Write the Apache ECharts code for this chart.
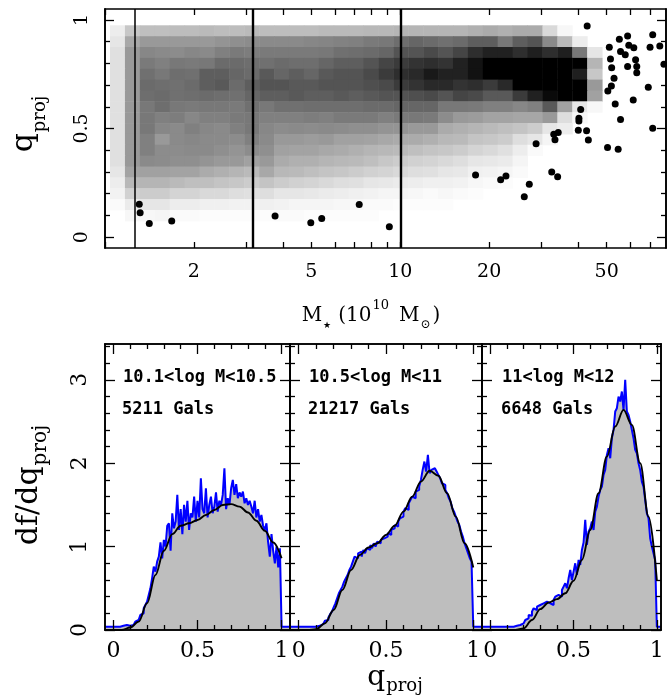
<!DOCTYPE html>
<html><head><meta charset="utf-8">
<script src="https://cdn.jsdelivr.net/npm/echarts@6/dist/echarts.min.js"></script>
<style>html,body{margin:0;padding:0;background:#fff}#c{width:667px;height:700px}</style>
</head><body><div id="c"></div>
<script>
// ================= DATA =================
// --- top panel ---
const massCuts = [10.1, 10.5, 11.0];                 // log M boundaries of the three samples
const massTickValues = [1,2,3,4,5,6,7,8,9,10,20,30,40,50,60,70,80]; // 10^10 Msun
const massTickLabels = [2, 5, 10, 20, 50];           // 10^10 Msun
const qTickMajor = [0, 0.5, 1];
const qTickMinor = [0.1,0.2,0.3,0.4,0.6,0.7,0.8,0.9];
const heatLogMStart = 10.017;   // left edge of first mass bin (log M)
const heatLogMWidth = 0.0505;   // mass bin width (dex)
const heatQWidth = 0.05;        // q bin width
const heatQ = [0.95,0.90,0.85,0.80,0.75,0.70,0.65,0.60,0.55,0.50,0.45,0.40,0.35,0.30,0.25,0.20,0.15,0.10];
// relative density (0 = empty/white, 100 = maximum/black), one row per q bin, 33 mass bins
const heatDensity = [
 [7,22,25,25,26,26,27,26,26,27,26, 26,26,26,27,27,27,28,28,29,29,29, 29,29,31,33,31,33,33,15,3,0,0],
 [10,34,40,40,40,40,40,42,44,45,46, 46,46,47,48,49,50,52,53,57,60,58, 56,58,63,63,53,63,67,46,27,7,0],
 [12,40,47,46,45,47,46,50,52,51,52, 52,52,52,53,56,57,58,60,67,67,71, 67,73,82,87,87,82,88,82,88,53,10],
 [12,40,52,50,53,52,53,58,58,57,56, 58,57,57,60,63,63,67,73,77,80,82, 80,87,93,100,100,100,100,100,100,100,29],
 [12,40,56,53,57,56,63,63,60,58,65, 60,63,60,65,67,67,71,77,82,84,90, 87,87,93,100,100,100,100,100,100,88,22],
 [12,40,58,57,56,58,63,65,58,63,67, 67,65,65,67,67,67,69,71,77,80,84, 84,80,82,77,84,100,100,100,100,100,40],
 [12,40,57,58,56,57,58,57,56,60,63, 63,65,63,63,65,63,65,67,67,69,71, 67,73,71,65,65,77,87,96,100,100,37],
 [12,40,53,57,53,52,53,53,52,56,53, 56,56,57,57,57,57,58,58,60,60,60, 53,53,52,50,50,47,50,65,37,10,3],
 [12,40,53,50,51,47,50,50,52,53,50, 50,50,51,50,52,52,52,50,52,53,52, 45,40,39,36,36,35,35,40,13,3,0],
 [12,40,53,47,46,50,47,46,50,53,47, 45,46,45,46,45,44,44,42,42,40,40, 33,31,29,27,25,23,20,10,7,0,0],
 [12,40,50,40,46,47,46,46,45,50,46, 40,40,39,40,37,37,36,34,33,33,31, 28,27,23,22,20,13,10,4,0,0,0],
 [12,40,50,45,45,46,46,44,42,45,44, 37,36,36,34,33,31,29,28,27,25,23, 22,20,17,15,12,7,2,0,0,0,0],
 [12,40,46,45,44,44,42,40,40,37,40, 33,31,31,29,28,27,25,22,20,18,17, 15,13,10,9,8,4,0,0,0,0,0],
 [10,36,37,37,36,36,33,31,29,27,34, 28,27,25,23,22,20,18,17,15,13,12, 10,9,6,5,4,2,0,0,0,0,0],
 [7,28,29,29,27,25,25,23,22,20,23, 20,18,17,15,13,12,10,9,8,7,6, 6,5,3,2,1,0,0,0,0,0,0],
 [5,18,20,20,17,17,15,15,13,12,13, 10,10,9,8,7,6,5,4,4,3,2, 3,2,1,0,0,0,0,0,0,0,0],
 [2,8,10,10,7,7,6,6,5,5,6, 5,4,4,4,3,3,2,2,1,1,1, 1,0,0,0,0,0,0,0,0,0,0],
 [0,3,3,4,2,2,1,1,1,1,1, 2,2,1,1,1,1,1,0,0,0,0, 0,0,0,0,0,0,0,0,0,0,0]
];
// individual galaxies outside the binned region
const outlierLogM = [10.116,10.119,10.150,10.226,10.576,10.697,10.734,10.861,10.963,11.255,11.340,11.358,11.420,11.437,
 11.460,11.513,11.533,11.520,11.535,11.524,11.611,11.605,11.605,11.603,11.631,11.637,11.633,11.702,11.738,11.708,
 11.712,11.716,11.724,11.715,11.703,11.728,11.746,11.742,11.746,11.762,11.770,11.774,11.791,11.770,11.797,11.801,
 11.801,11.789,11.840,11.846,11.855,11.879,11.893,11.855];
const outlierQ = [0.151,0.112,0.063,0.074,0.097,0.066,0.086,0.150,0.048,0.286,0.264,0.281,0.186,0.243,
 0.430,0.300,0.278,0.473,0.482,0.448,0.587,0.547,0.535,0.492,0.490,0.447,0.972,0.412,0.404,0.874,
 0.820,0.780,0.731,0.696,0.673,0.613,0.541,0.911,0.854,0.839,0.926,0.883,0.872,0.785,0.816,0.785,
 0.757,0.631,0.690,0.874,0.931,0.880,0.796,0.501];

// --- bottom panels ---
const panelLabels = ['10.1<log M<10.5', '10.5<log M<11', '11<log M<12'];
const panelCounts = ['5211 Gals', '21217 Gals', '6648 Gals'];
const histStart = 0.0, histBin = 0.01, histFloor = 0.04;
const hist1 = [
 0.04,0.04,0.04,0.04,0.04,0.05,0.06,0.06,0.05,0.05,
 0.07,0.06,0.08,0.10,0.12,0.14,0.18,0.20,0.26,0.30,
 0.34,0.42,0.50,0.62,0.76,0.70,0.82,0.88,1.05,0.86,
 1.08,1.00,1.25,1.28,0.95,1.40,1.22,1.30,1.62,1.20,
 1.45,1.15,1.50,1.30,1.55,1.20,1.40,1.35,1.60,1.30,
 1.55,1.35,1.82,1.45,1.40,1.70,1.35,1.50,1.60,1.40,
 1.48,1.65,1.42,1.55,1.50,1.62,1.94,1.45,1.58,1.50,
 1.70,1.80,1.62,1.75,1.58,1.65,1.60,1.66,1.52,1.58,
 1.50,1.55,1.48,1.40,1.55,1.35,1.45,1.30,1.38,1.25,
 1.20,1.28,1.05,0.88,1.15,0.95,0.80,1.00,0.75,0.98];
const hist2 = [
 0.04,0.04,0.04,0.04,0.04,0.04,0.04,0.04,0.04,0.04,
 0.05,0.05,0.06,0.07,0.09,0.11,0.12,0.15,0.19,0.22,
 0.27,0.32,0.38,0.44,0.48,0.52,0.58,0.62,0.66,0.72,
 0.76,0.82,0.88,0.86,0.92,0.94,0.88,0.96,0.92,0.98,
 0.96,1.02,0.98,1.04,1.00,1.06,1.04,1.08,1.10,1.12,
 1.12,1.16,1.14,1.20,1.22,1.26,1.24,1.30,1.34,1.36,
 1.42,1.46,1.44,1.52,1.56,1.60,1.58,1.66,1.68,1.72,
 1.80,1.92,2.02,1.90,2.10,1.88,1.92,1.94,1.96,1.90,
 1.86,1.82,1.76,1.74,1.68,1.64,1.58,1.54,1.46,1.42,
 1.36,1.30,1.26,1.18,1.12,1.04,0.98,0.92,0.86,0.82];
const hist3 = [
 0.04,0.04,0.04,0.04,0.04,0.04,0.04,0.04,0.04,0.04,
 0.04,0.04,0.04,0.04,0.04,0.05,0.05,0.06,0.07,0.08,
 0.10,0.12,0.14,0.18,0.17,0.22,0.26,0.24,0.28,0.30,
 0.28,0.32,0.30,0.34,0.36,0.32,0.34,0.30,0.36,0.40,
 0.42,0.44,0.40,0.48,0.52,0.56,0.50,0.62,0.72,0.60,
 0.70,0.80,0.66,0.84,0.78,0.96,1.05,1.32,1.02,1.18,
 1.22,1.30,1.20,1.42,1.48,1.60,1.68,1.72,1.86,1.92,
 2.10,2.18,2.06,2.30,2.40,2.62,2.66,2.80,2.74,2.86,
 2.64,3.00,2.62,2.58,2.50,2.40,2.30,2.16,2.12,2.00,
 1.92,1.78,1.72,1.56,1.40,1.34,1.10,1.00,0.92,0.84];
const modelQ = [-0.05,0,0.05,0.1,0.15,0.2,0.25,0.3,0.35,0.4,0.45,0.5,0.55,0.6,0.65,0.7,0.75,0.8,0.85,0.9,0.95,1.0];
const model1 = [0,0,0,0.03,0.10,0.32,0.66,0.95,1.15,1.25,1.28,1.32,1.38,1.44,1.50,1.51,1.48,1.41,1.31,1.19,1.05,0.86];
const model2 = [0,0,0,0.01,0.08,0.24,0.48,0.72,0.90,0.99,1.04,1.14,1.25,1.42,1.60,1.78,1.91,1.85,1.64,1.36,1.04,0.75];
const model3 = [0,0,0,0,0,0.02,0.12,0.25,0.33,0.37,0.44,0.59,0.84,1.20,1.64,2.08,2.44,2.64,2.46,2.00,1.36,0.60];
const dfTickMajor = [0,1,2,3];
const dfTickMinor = [0.2,0.4,0.6,0.8,1.2,1.4,1.6,1.8,2.2,2.4,2.6,2.8,3.2,3.4];
const qpTickMajor = [0,0.5,1];
const qpTickMinor = [0.1,0.2,0.3,0.4,0.6,0.7,0.8,0.9];

// ================= CHART =================
const SERIF = '"DejaVu Serif", serif';
const MONO = '"DejaVu Sans Mono", monospace';
const chart = echarts.init(document.getElementById('c'), null, {renderer: 'canvas'});

const grids = [
  {left: 105, top: 9, width: 561, height: 239},
  {left: 105, top: 344, width: 185, height: 286},
  {left: 290, top: 344, width: 192, height: 286},
  {left: 482, top: 344, width: 179, height: 286}
];
const panelRanges = [[-0.05, 1.05], [-0.05, 1.05], [-0.05, 1.025]];

const xAxes = [], yAxes = [];
function mkAxis(gridIndex, min, max, position, ticks, tickLen, labels, labelOpt) {
  return {
    type: 'value', gridIndex, min, max, position, z: 10,
    axisLine: {show: true, onZero: false, lineStyle: {color: '#000', width: 1.6}},
    axisTick: {show: true, inside: true, customValues: ticks, length: tickLen, lineStyle: {color: '#000', width: 1.3}},
    axisLabel: labels ? Object.assign({show: true, customValues: labels, color: '#000', fontFamily: SERIF}, labelOpt) : {show: false},
    splitLine: {show: false}
  };
}
// top panel axes
const logTicks = massTickValues.map(m => 10 + Math.log10(m));
const logLabels = massTickLabels.map(m => 10 + Math.log10(m));
xAxes.push(mkAxis(0, 10, 11.9, 'bottom', logTicks, 6, logLabels,
  {fontSize: 19, margin: 15, formatter: v => String(Math.round(Math.pow(10, v - 10)))}));
xAxes.push(mkAxis(0, 10, 11.9, 'top', logTicks, 6, null));
yAxes.push(mkAxis(0, -0.05, 1.05, 'left', qTickMajor, 9, qTickMajor, {fontSize: 19, rotate: 90, margin: 13}));
yAxes.push(mkAxis(0, -0.05, 1.05, 'left', qTickMinor, 5, null));
yAxes.push(mkAxis(0, -0.05, 1.05, 'right', qTickMajor, 9, null));
yAxes.push(mkAxis(0, -0.05, 1.05, 'right', qTickMinor, 5, null));

const panelAxis = [];
for (let p = 0; p < 3; p++) {
  const g = p + 1, [mn, mx] = panelRanges[p];
  const xi = xAxes.length, yi = yAxes.length;
  xAxes.push(mkAxis(g, mn, mx, 'bottom', qpTickMajor, 10, qpTickMajor, {fontSize: 22, margin: 10}));
  xAxes.push(mkAxis(g, mn, mx, 'bottom', qpTickMinor, 5, null));
  xAxes.push(mkAxis(g, mn, mx, 'top', qpTickMajor, 10, null));
  xAxes.push(mkAxis(g, mn, mx, 'top', qpTickMinor, 5, null));
  yAxes.push(mkAxis(g, 0, 3.43, 'left', dfTickMajor, 10, p === 0 ? dfTickMajor : null, {fontSize: 22, rotate: 90, margin: 14}));
  yAxes.push(mkAxis(g, 0, 3.43, 'left', dfTickMinor, 5, null));
  yAxes.push(mkAxis(g, 0, 3.43, 'right', dfTickMajor, 10, null));
  yAxes.push(mkAxis(g, 0, 3.43, 'right', dfTickMinor, 5, null));
  panelAxis.push({xi, yi});
}

// heat cells
const heatData = [];
heatDensity.forEach((row, r) => row.forEach((d, c) => {
  if (d > 0) heatData.push([heatLogMStart + heatLogMWidth * (c + 0.5), heatQ[r], d]);
}));

const series = [];
series.push({
  type: 'custom', xAxisIndex: 0, yAxisIndex: 0, data: heatData, silent: true, z: 1,
  renderItem: function (params, api) {
    const x = api.value(0), q = api.value(1), d = api.value(2);
    const p0 = api.coord([x - heatLogMWidth / 2, q + heatQWidth / 2]);
    const p1 = api.coord([x + heatLogMWidth / 2, q - heatQWidth / 2]);
    const g = Math.round(255 * (1 - d / 100));
    return {type: 'rect', shape: {x: p0[0], y: p0[1], width: p1[0] - p0[0] + 0.5, height: p1[1] - p0[1] + 0.5},
      style: {fill: 'rgb(' + g + ',' + g + ',' + g + ')'}};
  }
});
series.push({
  type: 'scatter', xAxisIndex: 0, yAxisIndex: 0, z: 5, symbol: 'circle', symbolSize: 7,
  itemStyle: {color: '#000', opacity: 1},
  data: outlierLogM.map((m, i) => [m, outlierQ[i]]),
  markLine: {silent: true, symbol: 'none', label: {show: false}, animation: false,
    data: massCuts.map((v, i) => ({xAxis: v, lineStyle: {color: '#000', width: i === 0 ? 1.5 : 2.4, type: 'solid', opacity: 1}}))}
});

const hists = [hist1, hist2, hist3], models = [model1, model2, model3];
for (let p = 0; p < 3; p++) {
  const {xi, yi} = panelAxis[p];
  const [mn, mx] = panelRanges[p];
  const h = hists[p];
  const pts = [[mn, histFloor]];
  h.forEach((v, i) => pts.push([+(histStart + i * histBin).toFixed(3), v]));
  pts.push([+(histStart + h.length * histBin).toFixed(3), histFloor]);
  pts.push([mx, histFloor]);
  series.push({
    type: 'line', xAxisIndex: xi, yAxisIndex: yi, data: pts, step: 'end', symbol: 'none', z: 2,
    lineStyle: {color: '#0000ff', width: 2}, areaStyle: {color: '#bebebe', opacity: 1}, silent: true
  });
  series.push({
    type: 'line', xAxisIndex: xi, yAxisIndex: yi, data: modelQ.map((q, i) => [q, models[p][i]]),
    smooth: 0.35, smoothMonotone: 'x', symbol: 'none', z: 3, lineStyle: {color: '#000', width: 1.9}, silent: true
  });
}

// ---- text runs (titles with sub/superscripts) ----
const mctx = document.createElement('canvas').getContext('2d');
function tw(text, size, family, weight) {
  mctx.font = (weight || 'normal') + ' ' + size + 'px ' + family;
  return mctx.measureText(text).width;
}
function run(pieces, x, y, rotation, anchor) {
  let total = 0;
  const ws = pieces.map(p => { const w = tw(p.text, p.size, p.family || SERIF, p.weight); total += w + (p.gap || 0); return w; });
  let cx = anchor === 'center' ? -total / 2 : 0;
  const children = pieces.map((p, i) => {
    cx += (p.gap || 0);
    const fam = p.family || SERIF, wt = p.weight || 'normal';
    const el = {type: 'text', x: cx, y: (p.dy || 0) - 0.346 * p.size,
      style: {text: p.text, font: wt + ' ' + p.size + 'px ' + fam, fill: '#000',
        textAlign: 'left', align: 'left', textVerticalAlign: 'middle', verticalAlign: 'middle'}};
    cx += ws[i];
    return el;
  });
  return {type: 'group', x, y, rotation: rotation || 0, children, silent: true, z: 20};
}
const graphics = [];
graphics.push(run([{text: 'q', size: 30}, {text: 'proj', size: 18, dy: 12, gap: 1}], 35, 124, Math.PI / 2, 'center'));
graphics.push(run([
  {text: 'M', size: 20}, {text: '\u2605', size: 9, dy: 6, gap: 1}, {text: '(10', size: 20, gap: 7},
  {text: '10', size: 13, dy: -13, gap: 1}, {text: 'M', size: 20, gap: 10}, {text: '\u2299', size: 12, dy: 6, gap: 1},
  {text: ')', size: 20, gap: 2}], 371, 323, 0, 'center'));
graphics.push(run([{text: 'df/dq', size: 30}, {text: 'proj', size: 20, dy: 8, gap: 1}], 40, 485, Math.PI / 2, 'center'));
graphics.push(run([{text: 'q', size: 28}, {text: 'proj', size: 18, dy: 6, gap: 1}], 395, 687, 0, 'center'));
const annX = [123, 309, 502];
for (let p = 0; p < 3; p++) {
  graphics.push(run([{text: panelLabels[p], size: 17, family: MONO, weight: 'bold'}], annX[p], 383, 0, 'left'));
  graphics.push(run([{text: panelCounts[p], size: 17, family: MONO, weight: 'bold'}], annX[p] - 1, 415, 0, 'left'));
}

chart.setOption({
  animation: false,
  backgroundColor: '#fff',
  grid: grids.map(g => Object.assign({containLabel: false}, g)),
  xAxis: xAxes, yAxis: yAxes, series, graphic: graphics
});
</script></body></html>
